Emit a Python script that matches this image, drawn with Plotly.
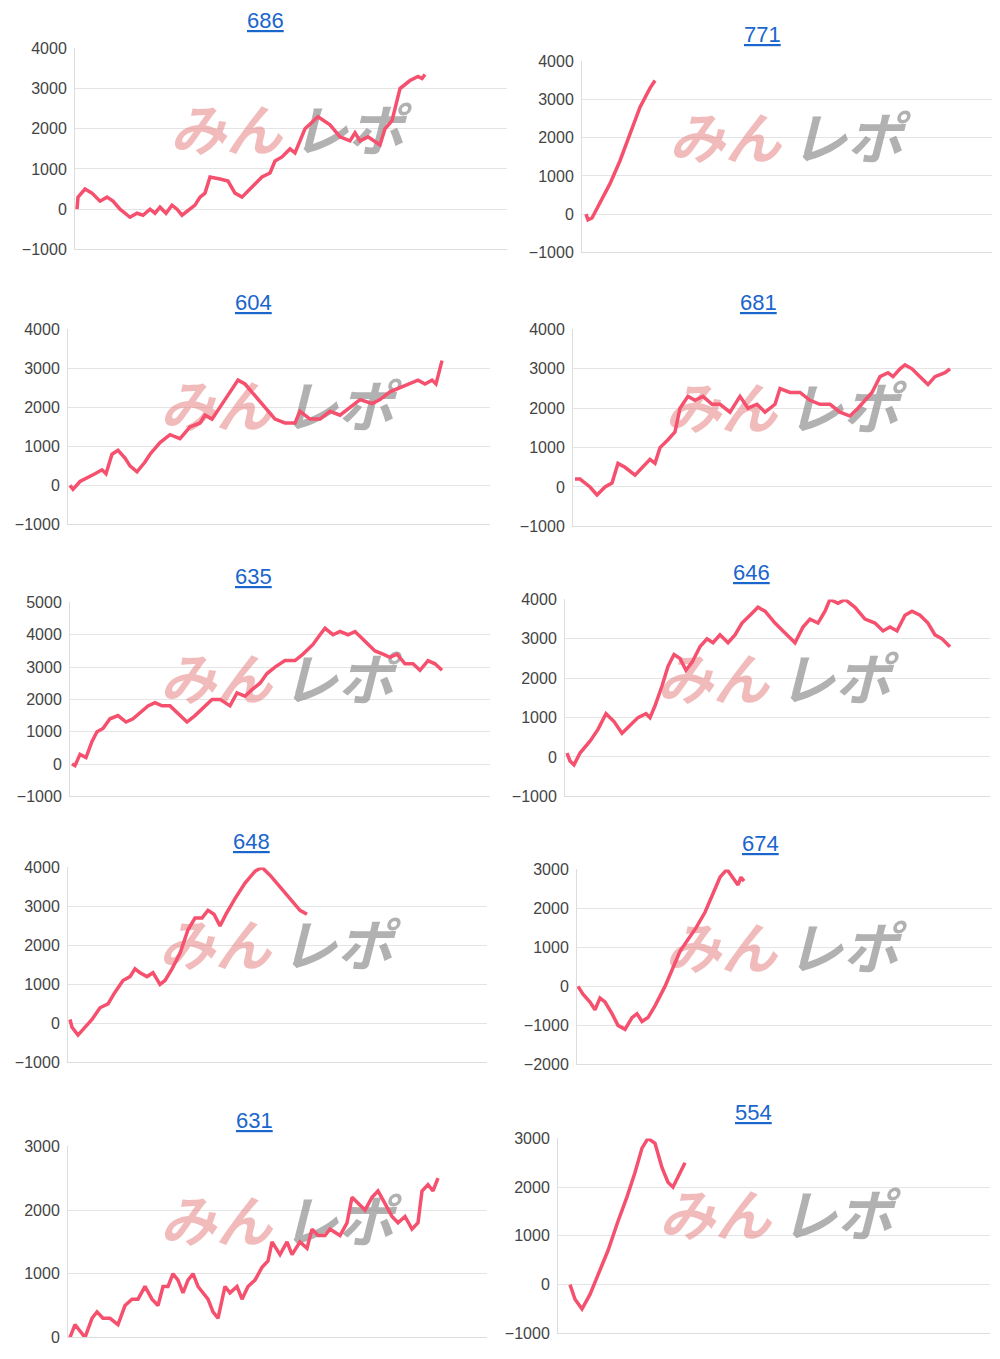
import plotly.graph_objects as go

# machine numbers (panel titles)
titles = ["686", "771", "604", "681", "635", "646", "648", "674", "631", "554"]

# day index / balance per machine
days_686 = [2, 3, 10, 17, 25, 32, 38, 45, 55, 62, 68, 75, 80, 85, 91, 97, 102, 107, 120, 125, 130, 135, 145, 153, 160, 167, 175, 187, 195, 200, 207, 215, 220, 230, 243, 255, 265, 275, 280, 285, 293, 305, 310, 317, 325, 335, 343, 347, 350]
vals_686 = [0, 300, 500, 400, 200, 300, 200, 0, -200, -100, -150, 0, -100, 50, -100, 100, 0, -150, 100, 300, 400, 800, 750, 700, 400, 300, 500, 800, 900, 1200, 1300, 1500, 1400, 2000, 2300, 2100, 1800, 1700, 1900, 1700, 1800, 1600, 2000, 2200, 3000, 3200, 3300, 3250, 3350]

days_771 = [4, 6, 10, 18, 28, 38, 48, 58, 68, 73]
vals_771 = [0, -150, -100, 300, 800, 1400, 2100, 2800, 3300, 3500]

days_604 = [2, 5, 12, 20, 27, 34, 38, 44, 50, 57, 62, 69, 77, 82, 92, 102, 112, 122, 132, 137, 144, 157, 170, 177, 187, 197, 207, 217, 227, 232, 242, 252, 262, 272, 282, 292, 304, 312, 322, 332, 342, 350, 357, 364, 368, 374]
vals_604 = [0, -100, 100, 200, 300, 400, 300, 800, 900, 700, 500, 350, 600, 800, 1100, 1300, 1200, 1500, 1600, 1800, 1700, 2200, 2700, 2600, 2300, 2000, 1700, 1600, 1600, 1900, 1700, 1700, 1900, 1800, 2000, 2200, 2100, 2200, 2400, 2500, 2600, 2700, 2600, 2700, 2600, 3200]

days_681 = [2, 7, 17, 24, 32, 39, 45, 52, 62, 70, 77, 82, 87, 95, 102, 107, 115, 122, 130, 139, 147, 157, 167, 175, 184, 192, 202, 207, 217, 227, 237, 247, 257, 267, 277, 285, 292, 299, 307, 315, 320, 327, 332, 339, 347, 355, 362, 372, 377]
vals_681 = [200, 200, 0, -200, 0, 100, 600, 500, 300, 500, 700, 600, 1000, 1200, 1400, 2000, 2300, 2200, 2300, 2100, 2100, 1900, 2300, 2000, 2100, 1900, 2100, 2500, 2400, 2400, 2200, 2100, 2100, 1900, 1800, 2000, 2200, 2400, 2800, 2900, 2800, 3000, 3100, 3000, 2800, 2600, 2800, 2900, 3000]

days_635 = [2, 5, 10, 16, 22, 27, 33, 40, 48, 56, 63, 70, 78, 85, 92, 100, 110, 117, 125, 135, 142, 150, 160, 167, 175, 182, 190, 197, 205, 215, 225, 233, 243, 250, 255, 263, 270, 278, 285, 295, 305, 313, 320, 327, 335, 343, 350, 358, 365, 372]
vals_635 = [0, -50, 300, 200, 700, 1000, 1100, 1400, 1500, 1300, 1400, 1600, 1800, 1900, 1800, 1800, 1500, 1300, 1500, 1800, 2000, 2000, 1800, 2200, 2100, 2300, 2500, 2800, 3000, 3200, 3200, 3400, 3700, 4000, 4200, 4000, 4100, 4000, 4100, 3800, 3500, 3400, 3300, 3400, 3100, 3100, 2900, 3200, 3100, 2900]

days_646 = [2, 5, 9, 15, 25, 33, 41, 49, 57, 65, 73, 81, 85, 90, 97, 103, 109, 115, 121, 127, 135, 142, 148, 155, 163, 170, 177, 185, 193, 200, 210, 218, 230, 238, 245, 253, 260, 265, 273, 280, 290, 300, 310, 318, 325, 332, 340, 347, 355, 363, 370, 377, 385]
vals_646 = [100, -100, -200, 100, 400, 700, 1100, 900, 600, 800, 1000, 1100, 1000, 1300, 1800, 2300, 2600, 2500, 2200, 2400, 2800, 3000, 2900, 3100, 2900, 3100, 3400, 3600, 3800, 3700, 3400, 3200, 2900, 3300, 3500, 3400, 3700, 4000, 3900, 4000, 3800, 3500, 3400, 3200, 3300, 3200, 3600, 3700, 3600, 3400, 3100, 3000, 2800]

days_648 = [2, 4, 10, 17, 24, 32, 40, 47, 55, 62, 67, 72, 79, 85, 92, 97, 104, 112, 120, 127, 134, 140, 146, 152, 158, 167, 177, 187, 194, 202, 212, 222, 232, 239]
vals_648 = [100, -100, -300, -100, 100, 400, 500, 800, 1100, 1200, 1400, 1300, 1200, 1300, 1000, 1100, 1400, 1800, 2400, 2700, 2700, 2900, 2800, 2500, 2800, 3200, 3600, 3900, 4000, 3800, 3500, 3200, 2900, 2800]

days_674 = [1, 6, 13, 18, 23, 28, 35, 41, 48, 55, 60, 65, 71, 78, 88, 95, 103, 111, 119, 128, 136, 143, 150, 156, 161, 164, 167]
vals_674 = [0, -200, -400, -600, -300, -400, -700, -1000, -1100, -800, -700, -900, -800, -500, 0, 400, 900, 1200, 1500, 1900, 2400, 2800, 3000, 2800, 2600, 2800, 2700]

days_631 = [2, 7, 12, 17, 24, 29, 35, 42, 50, 57, 64, 70, 77, 84, 90, 95, 100, 105, 110, 115, 120, 125, 130, 135, 140, 145, 150, 157, 162, 169, 174, 180, 187, 194, 200, 204, 212, 219, 224, 232, 239, 244, 250, 257, 262, 272, 279, 284, 290, 297, 304, 310, 317, 324, 330, 337, 344, 350, 354, 360, 365, 370]
vals_631 = [0, 200, 100, 0, 300, 400, 300, 300, 200, 500, 600, 600, 800, 600, 500, 800, 800, 1000, 900, 700, 900, 1000, 800, 700, 600, 400, 300, 800, 700, 800, 600, 800, 900, 1100, 1200, 1500, 1300, 1500, 1300, 1500, 1400, 1700, 1600, 1600, 1700, 1600, 1800, 2200, 2100, 2000, 2200, 2300, 2100, 1900, 1800, 1900, 1700, 1800, 2300, 2400, 2300, 2500]

days_554 = [12, 17, 24, 32, 40, 50, 60, 69, 77, 84, 90, 97, 104, 110, 115, 120, 127]
vals_554 = [0, -300, -500, -200, 200, 700, 1300, 1800, 2300, 2800, 3000, 2900, 2400, 2100, 2000, 2200, 2500]

all_days = [days_686, days_771, days_604, days_681, days_635, days_646, days_648, days_674, days_631, days_554]
all_vals = [vals_686, vals_771, vals_604, vals_681, vals_635, vals_646, vals_648, vals_674, vals_631, vals_554]
y_ranges = [(-1000, 4000), (-1000, 4000), (-1000, 4000), (-1000, 4000), (-1000, 5000),
            (-1000, 4000), (-1000, 4000), (-2000, 3000), (0, 3000), (-1000, 3000)]

# panel boxes in reference pixels: left, right, top (max tick), bottom (min tick), title y, title x, watermark x, y
boxes = [
    (75, 507, 48, 249, 20, 265, 288, 137),
    (582, 995, 61, 252, 34, 762, 787, 145),
    (68, 490, 329, 524, 302, 253, 278, 413),
    (573, 995, 329, 526, 302, 758, 783, 415),
    (70, 490, 602, 796, 576, 253, 278, 686),
    (565, 990, 599, 796, 572, 751, 775, 686),
    (68, 487, 867, 1062, 841, 251, 277, 952),
    (577, 995, 869, 1064, 843, 760, 783, 955),
    (68, 487, 1146, 1337, 1120, 254, 278, 1228),
    (558, 990, 1138, 1333, 1112, 753, 777, 1222),
]

W, H = 1000, 1359


# rendered page is slightly inset; undo that
def px(x):
    return min(1, max(0, (x - 8) / W))


def py(y):
    return min(1, max(0, 1 - (y - 15.6) / 0.9875 / H))


fig = go.Figure()
annotations = []
for i, (t, d, v, yr, b) in enumerate(zip(titles, all_days, all_vals, y_ranges, boxes)):
    left, right, top, bottom, ty, tx, wx, wy = b
    n = str(i + 1) if i else ""
    # watermark as text traces so the line sits on top
    wy_data = yr[0] + (bottom - wy) / (bottom - top) * (yr[1] - yr[0])
    fig.add_trace(go.Scatter(x=[wx - left - 62], y=[wy_data], mode="text", text=["<b><i>みん</i></b>"],
                             textfont=dict(size=56, color="rgba(228,120,120,0.5)", family="Noto Sans CJK JP"),
                             xaxis="x" + n, yaxis="y" + n, showlegend=False, hoverinfo="skip"))
    fig.add_trace(go.Scatter(x=[wx - left + 60], y=[wy_data], mode="text", text=["<b><i>レポ</i></b>"],
                             textfont=dict(size=56, color="rgba(135,135,135,0.65)", family="Noto Sans CJK JP"),
                             xaxis="x" + n, yaxis="y" + n, showlegend=False, hoverinfo="skip"))
    fig.add_trace(go.Scatter(x=d, y=v, mode="lines", xaxis="x" + n, yaxis="y" + n,
                             line=dict(color="#f5506e", width=3.5), showlegend=False,
                             hoverinfo="skip"))
    fig.layout["xaxis" + n] = dict(domain=[px(left), px(right)], range=[0, right - left],
                                   showticklabels=False, showgrid=False, zeroline=False,
                                   anchor="y" + n, showline=True, linecolor="#dddddd")
    fig.layout["yaxis" + n] = dict(domain=[py(bottom), py(top)], range=list(yr),
                                   dtick=1000, anchor="x" + n, showgrid=True,
                                   gridcolor="#e4e4e4", zeroline=False, showline=True,
                                   linecolor="#dddddd", tickfont=dict(size=16, color="#444"),
                                   ticks="", ticklabelstandoff=4)
    annotations.append(dict(x=px(tx), y=py(ty), xref="paper", yref="paper",
                            xanchor="center", yanchor="middle",
                            text="<u>" + t + "</u>", showarrow=False,
                            font=dict(size=22, color="#1a66cc")))

fig.update_layout(width=W, height=H, margin=dict(l=0, r=0, t=0, b=0),
                  plot_bgcolor="white", paper_bgcolor="white",
                  font=dict(family="Liberation Sans, Arial"), annotations=annotations)
fig.write_html("out.html")
